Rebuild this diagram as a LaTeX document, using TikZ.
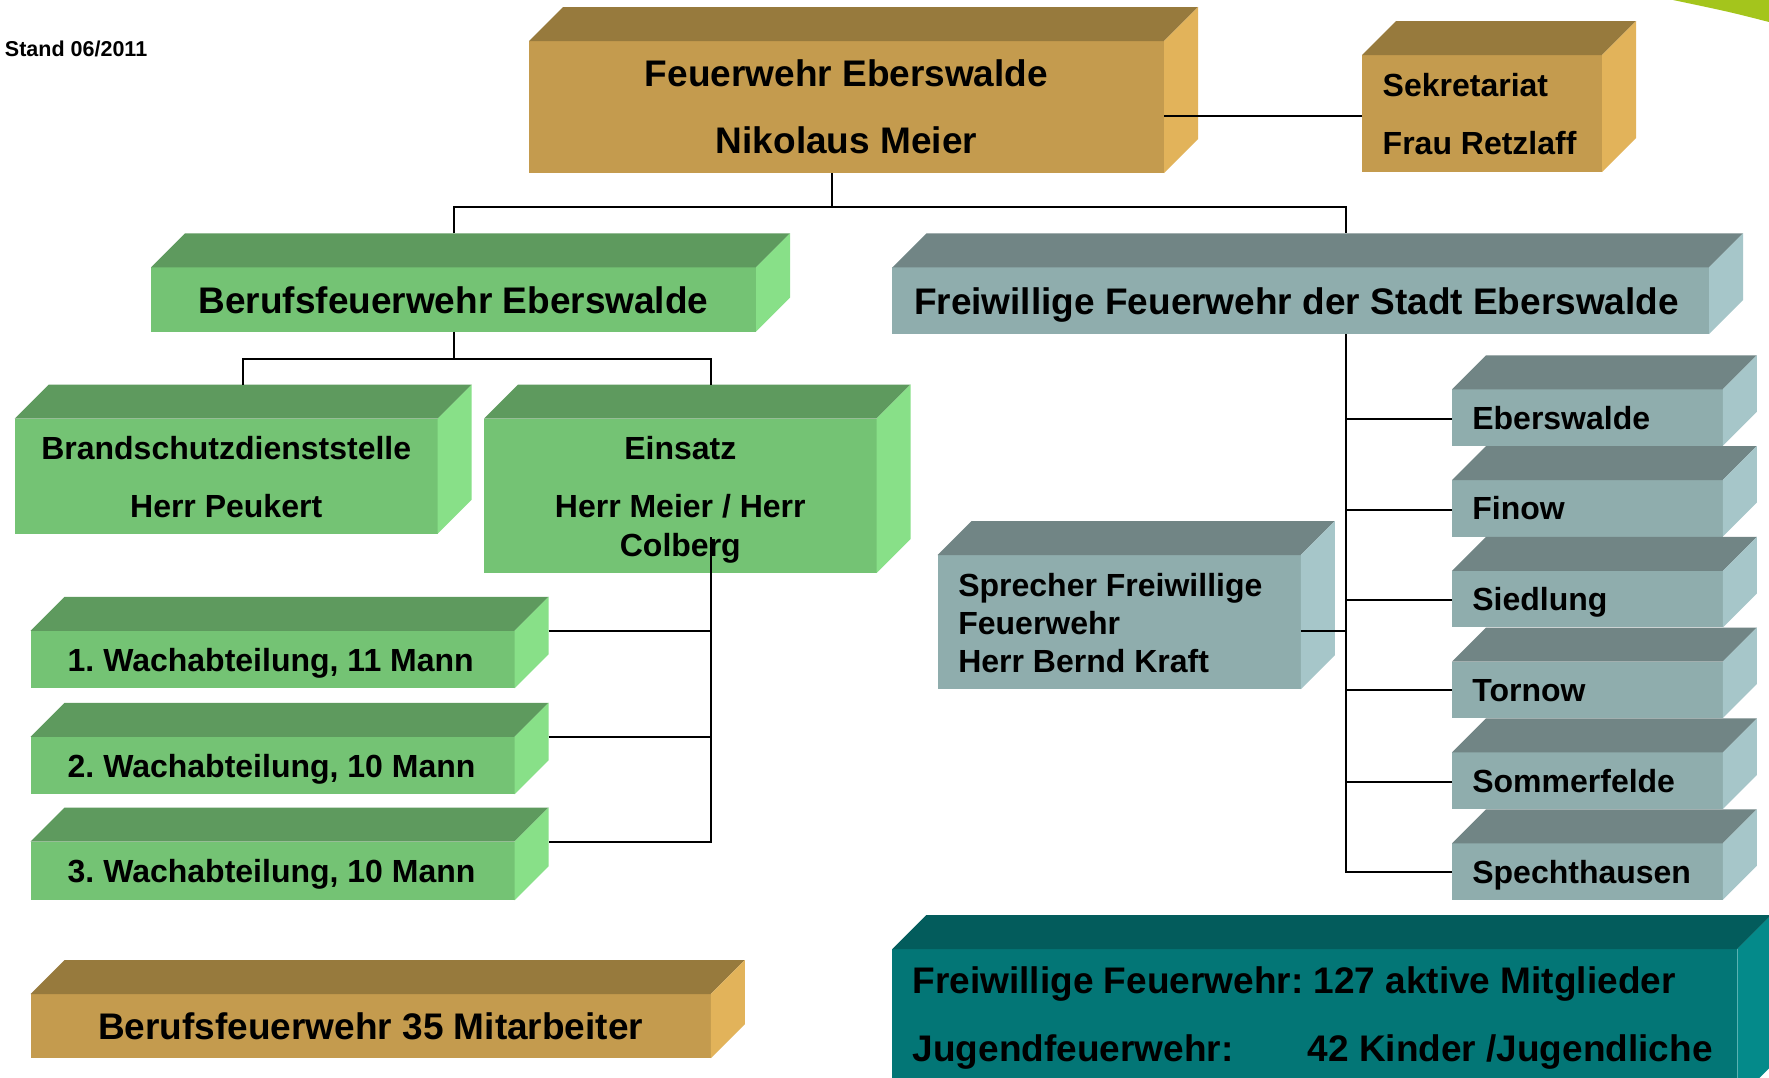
\documentclass[tikz,border=0pt]{standalone}
\usepackage{fontspec}
\setmainfont{Liberation Sans}
\usetikzlibrary{calc}
\frenchspacing
\definecolor{goldT}{HTML}{977A3D}
\definecolor{goldF}{HTML}{C49B4E}
\definecolor{goldS}{HTML}{E2B35A}
\definecolor{greenT}{HTML}{5E9A5E}
\definecolor{greenF}{HTML}{74C374}
\definecolor{greenS}{HTML}{88E088}
\definecolor{greyT}{HTML}{718585}
\definecolor{greyF}{HTML}{8FADAD}
\definecolor{greyS}{HTML}{A6C6C9}
\definecolor{tealT}{HTML}{035C5C}
\definecolor{tealF}{HTML}{037676}
\definecolor{tealS}{HTML}{048A8A}
\definecolor{limeC}{HTML}{A4C51C}
\newcommand\depthfaces[3]{%
  \fill[#2] (#1.north west) -- ++(34pt,34pt) -- ([shift={(34pt,34pt)}]#1.north east) -- (#1.north east) -- cycle;
  \fill[#3] (#1.north east) -- ++(34pt,34pt) -- ([shift={(34pt,34pt)}]#1.south east) -- (#1.south east) -- cycle;}
\begin{document}
\frenchspacing
\begin{tikzpicture}[x=1pt,y=-1pt,
  conn/.style={draw=black,line width=2pt},
  frontbox/.style={fill=#1,inner sep=0pt,outer sep=0pt},
  bigtxt/.style={font=\frenchspacing\fontsize{37}{44}\selectfont\bfseries,inner sep=0pt,outer sep=0pt,anchor=base},
  midtxt/.style={font=\frenchspacing\fontsize{32}{38}\selectfont\bfseries,inner sep=0pt,outer sep=0pt,anchor=base},
  smalltxt/.style={font=\frenchspacing\fontsize{21.5}{25}\selectfont\bfseries,inner sep=0pt,outer sep=0pt,anchor=base west}]
\clip (0,0) rectangle (1769,1077);
\fill[white] (0,0) rectangle (1769,1077);
% corner swoosh
\fill[limeC] (1673,0) -- (1769,0) -- (1769,22) .. controls (1730,12) .. (1673,0) -- cycle;

% front faces
\node[frontbox=goldF,minimum width=635pt,minimum height=132pt] (top) at (846.5,107) {};
\node[frontbox=goldF,minimum width=240pt,minimum height=117pt] (sek) at (1482,113.5) {};
\node[frontbox=greenF,minimum width=605pt,minimum height=64.3pt] (bfe) at (453.5,299.5) {};
\node[frontbox=greyF,minimum width=816.6pt,minimum height=66.6pt] (ffw) at (1300.7,300.7) {};
\node[frontbox=greenF,minimum width=423pt,minimum height=115pt] (bsd) at (226.2,476.1) {};
\node[frontbox=greenF,minimum width=392.6pt,minimum height=154.4pt] (ein) at (680.3,495.8) {};
\node[frontbox=greenF,minimum width=484pt,minimum height=57.5pt] (w1) at (272.5,659.5) {};
\node[frontbox=greenF,minimum width=484pt,minimum height=57.5pt] (w2) at (272.5,765.5) {};
\node[frontbox=greenF,minimum width=484pt,minimum height=58.7pt] (w3) at (272.5,871) {};
\node[frontbox=goldF,minimum width=680.3pt,minimum height=64.3pt] (bma) at (370.7,1026.2) {};
\node[frontbox=greyF,minimum width=363.3pt,minimum height=134.3pt] (spr) at (1119.2,622.2) {};
\node[frontbox=greyF,minimum width=270.8pt,minimum height=56.5pt] (s1) at (1587.4,417.5) {};
\node[frontbox=greyF,minimum width=270.8pt,minimum height=56.5pt] (s2) at (1587.4,508.3) {};
\node[frontbox=greyF,minimum width=270.8pt,minimum height=56.5pt] (s3) at (1587.4,599.2) {};
\node[frontbox=greyF,minimum width=270.8pt,minimum height=56.5pt] (s4) at (1587.4,689.9) {};
\node[frontbox=greyF,minimum width=270.8pt,minimum height=56.5pt] (s5) at (1587.4,780.7) {};
\node[frontbox=greyF,minimum width=270.8pt,minimum height=56.5pt] (s6) at (1587.4,871.5) {};
\node[frontbox=tealF,minimum width=845pt,minimum height=151pt] (teal) at (1314.9,1024.5) {};

% depth faces
\depthfaces{top}{goldT}{goldS}
\depthfaces{sek}{goldT}{goldS}
\depthfaces{bfe}{greenT}{greenS}
\depthfaces{ffw}{greyT}{greyS}
\depthfaces{bsd}{greenT}{greenS}
\depthfaces{ein}{greenT}{greenS}
\depthfaces{w1}{greenT}{greenS}
\depthfaces{w2}{greenT}{greenS}
\depthfaces{w3}{greenT}{greenS}
\depthfaces{bma}{goldT}{goldS}
\depthfaces{spr}{greyT}{greyS}
\depthfaces{s1}{greyT}{greyS}
\depthfaces{s2}{greyT}{greyS}
\depthfaces{s3}{greyT}{greyS}
\depthfaces{s4}{greyT}{greyS}
\depthfaces{s5}{greyT}{greyS}
\depthfaces{s6}{greyT}{greyS}
\depthfaces{teal}{tealT}{tealS}

% texts
\node[smalltxt] (stand) at (5,56) {Stand 06/2011};
\node[bigtxt] (topa) at (846.5,86.7) {Feuerwehr Eberswalde};
\node[bigtxt] (topb) at (846.5,153) {Nikolaus Meier};
\node[midtxt,anchor=base west] (seka) at (1382.7,96.7) {Sekretariat};
\node[midtxt,anchor=base west] (sekb) at (1382.7,154) {Frau Retzlaff};
\node[bigtxt] (bfet) at (453.5,313) {Berufsfeuerwehr Eberswalde};
\node[bigtxt,anchor=base west] (ffwt) at (914,314) {Freiwillige Feuerwehr der Stadt Eberswalde};
\node[midtxt] (bsda) at (226.2,459.5) {Brandschutzdienststelle};
\node[midtxt] (bsdb) at (226.2,517.7) {Herr Peukert};
\node[midtxt] (eina) at (680.3,459.5) {Einsatz};
\node[midtxt] (einb) at (680.3,517.7) {Herr Meier / Herr};
\node[midtxt] (einc) at (680.3,556.5) {Colberg};
\node[midtxt,anchor=base west] (w1t) at (67.7,671) {1. Wachabteilung, 11 Mann};
\node[midtxt,anchor=base west] (w2t) at (67.7,777) {2. Wachabteilung, 10 Mann};
\node[midtxt,anchor=base west] (w3t) at (67.7,882.5) {3. Wachabteilung, 10 Mann};
\node[bigtxt] (bmat) at (370.7,1039.5) {Berufsfeuerwehr 35 Mitarbeiter};
\node[midtxt,anchor=base west] (s1t) at (1472.3,429) {Eberswalde};
\node[midtxt,anchor=base west] (s2t) at (1472.3,519.8) {Finow};
\node[midtxt,anchor=base west] (s3t) at (1472.3,610.7) {Siedlung};
\node[midtxt,anchor=base west] (s4t) at (1472.3,701.4) {Tornow};
\node[midtxt,anchor=base west] (s5t) at (1472.3,792.2) {Sommerfelde};
\node[midtxt,anchor=base west] (s6t) at (1472.3,883) {Spechthausen};
\node[midtxt,anchor=base west] (spra) at (958.3,596) {Sprecher Freiwillige};
\node[midtxt,anchor=base west] (sprb) at (958.3,634.3) {Feuerwehr};
\node[midtxt,anchor=base west] (sprc) at (958.3,672.3) {Herr Bernd Kraft};
\node[bigtxt,anchor=base west] (teala) at (912.7,993) {Freiwillige Feuerwehr: 127 aktive Mitglieder};
\node[bigtxt,anchor=base west] (tealb) at (912.7,1061) {\makebox[394.9pt][l]{Jugendfeuerwehr:}42 Kinder /Jugendliche};

% connectors
\coordinate (sekline) at (0,116);
\coordinate (bus1) at (832,206.5);
\coordinate (ffwj) at (1346,206.5);
\coordinate (b2l) at (242.6,358.8);
\coordinate (b2r) at (710.8,358.8);
\draw[conn] (top.east |- sekline) -- (sek.west |- sekline);
\draw[conn] (top.south -| bus1) -- (bus1);
\draw[conn] ([yshift=34pt]bfe.north) |- (ffwj) -- ([yshift=34pt]ffw.north -| ffwj);
\draw[conn] (bfe.south) -- (bfe.south |- b2l);
\draw[conn] ([yshift=34pt]bsd.north -| b2l) -- (b2l) -- (b2r) -- ([yshift=34pt]ein.north -| b2r);
\draw[conn] ([yshift=36pt]ein.south -| b2r) |- ([xshift=34pt]w3.north east);
\draw[conn] ([xshift=34pt]w1.north east) -- (w1.north east -| b2r);
\draw[conn] ([xshift=34pt]w2.north east) -- (w2.north east -| b2r);
\draw[conn] (ffw.south -| ffwj) |- ([yshift=-0.5pt]s6.west);
\draw[conn] ([yshift=-1pt]s1.west) -- ([yshift=-1pt]s1.west -| ffwj);
\draw[conn] ([yshift=-1.5pt]s2.west) -- ([yshift=-1.5pt]s2.west -| ffwj);
\draw[conn] ([yshift=-1pt]s3.west) -- ([yshift=-1pt]s3.west -| ffwj);
\draw[conn] ([yshift=-0.5pt]s4.west) -- ([yshift=-0.5pt]s4.west -| ffwj);
\draw[conn] ([yshift=-1pt]s5.west) -- ([yshift=-1pt]s5.west -| ffwj);
\draw[conn] ([yshift=-8.5pt]spr.east) -- ([yshift=-8.5pt]spr.east -| ffwj);
\end{tikzpicture}
\end{document}
